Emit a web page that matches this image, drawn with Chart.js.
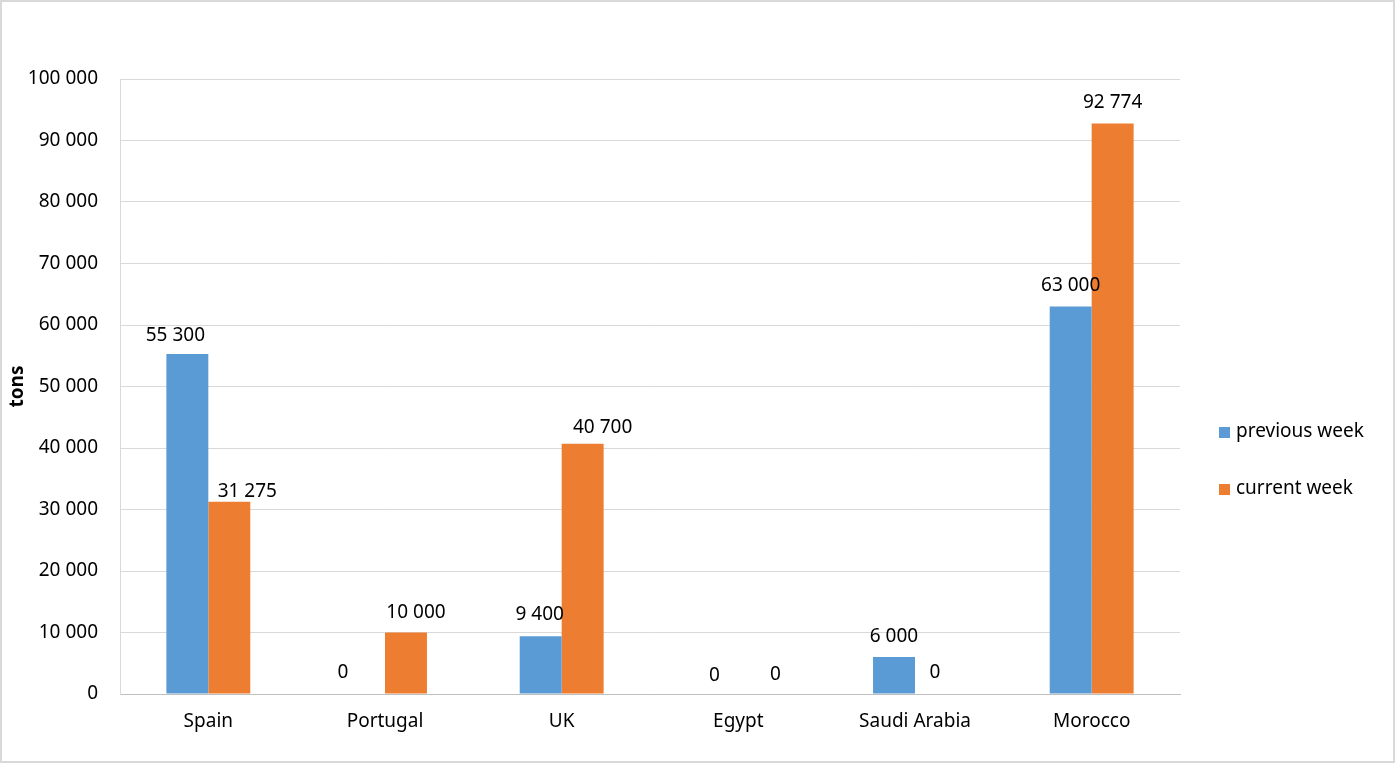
<!DOCTYPE html>
<html>
<head>
<meta charset="utf-8">
<script src="https://cdn.jsdelivr.net/npm/chart.js@4/dist/chart.umd.min.js"></script>
<style>
  html, body { margin: 0; padding: 0; background: #fff; }
  #wrap { width: 1395px; height: 763px; position: relative; }
</style>
</head>
<body>
<div id="wrap"><canvas id="bar"></canvas></div>
<script>
var countries = ['Spain', 'Portugal', 'UK', 'Egypt', 'Saudi Arabia', 'Morocco'];
var previousWeek = [55300, 0, 9400, 0, 6000, 63000];
var currentWeek = [31275, 10000, 40700, 0, 0, 92774];
var seriesNames = ['previous week', 'current week'];
var axisTitle = 'tons';

var FONT = '"Noto Sans"';
var FSIZE = 19;

// small hand nudges for the value labels, like in the original sheet
var labelNudge = [
  [[-12, 3], [-21, 0], [-1, -1], [-3, 3], [0, 0], [0, 0]],
  [[18, 11], [10, 1], [20, 5], [16, 2], [-1, 0], [0, 0]]
];

function fmt(v) {
  return String(v).replace(/\B(?=(\d{3})+(?!\d))/g, ' ');
}

// white background + thin frame round the whole picture
var framePlugin = {
  id: 'frame',
  beforeDraw: function(chart) {
    var c = chart.ctx;
    c.save();
    c.fillStyle = '#fff';
    c.fillRect(0, 0, chart.width, chart.height);
    c.strokeStyle = '#d9d9d9';
    c.lineWidth = 2;
    c.strokeRect(1, 1, chart.width - 2, chart.height - 2);
    c.restore();
  }
};

// value labels above every bar
var valuePlugin = {
  id: 'values',
  afterDatasetsDraw: function(chart) {
    var c = chart.ctx;
    c.save();
    c.font = FSIZE + 'px ' + FONT;
    c.fillStyle = '#000';
    c.textAlign = 'center';
    c.textBaseline = 'middle';
    chart.data.datasets.forEach(function(ds, i) {
      var meta = chart.getDatasetMeta(i);
      meta.data.forEach(function(bar, j) {
        var n = labelNudge[i][j];
        c.fillText(fmt(ds.data[j]), bar.x + n[0], bar.y - 21 + n[1]);
      });
    });
    c.restore();
  }
};

// legend drawn by hand on the right side
var legendPlugin = {
  id: 'sideLegend',
  afterDraw: function(chart) {
    var c = chart.ctx;
    c.save();
    c.font = FSIZE + 'px ' + FONT;
    c.textBaseline = 'middle';
    c.textAlign = 'left';
    var ys = [432, 489];
    chart.data.datasets.forEach(function(ds, i) {
      c.fillStyle = ds.backgroundColor;
      c.fillRect(1219, ys[i] - 5, 11, 11);
      c.fillStyle = '#000';
      c.fillText(ds.label, 1236, ys[i]);
    });
    c.restore();
  }
};

function init() {
  Chart.defaults.font.family = FONT;
  Chart.defaults.font.size = FSIZE;
  Chart.defaults.color = '#000';

  var ctx = document.getElementById('bar');
  var mychart = new Chart(ctx, {
    type: 'bar',
    data: {
      labels: countries,
      datasets: [{
        label: seriesNames[0],
        data: previousWeek,
        backgroundColor: '#5b9bd5'
      }, {
        label: seriesNames[1],
        data: currentWeek,
        backgroundColor: '#ed7d31'
      }]
    },
    options: {
      responsive: true,
      maintainAspectRatio: false,
      animation: false,
      categoryPercentage: 0.475,
      barPercentage: 1,
      layout: { padding: { top: 79, right: 215, bottom: 0, left: 0 } },
      plugins: {
        legend: { display: false },
        tooltip: { enabled: false }
      },
      scales: {
        x: {
          grid: { display: false, drawTicks: false },
          border: { color: '#bfbfbf', width: 1 },
          ticks: { padding: 16 },
          afterFit: function(scale) { scale.height = 69; }
        },
        y: {
          min: 0,
          max: 100000,
          ticks: { stepSize: 10000, padding: 22, callback: function(v) { return fmt(v); } },
          grid: { color: '#d9d9d9', drawTicks: false },
          border: { color: '#d9d9d9' },
          title: {
            display: true,
            text: axisTitle,
            font: { weight: 'bold', size: FSIZE },
            padding: { top: 6, bottom: 0 }
          },
          afterFit: function(scale) { scale.width = 120; }
        }
      }
    },
    plugins: [framePlugin, valuePlugin, legendPlugin]
  });
}

init();
</script>
</body>
</html>
